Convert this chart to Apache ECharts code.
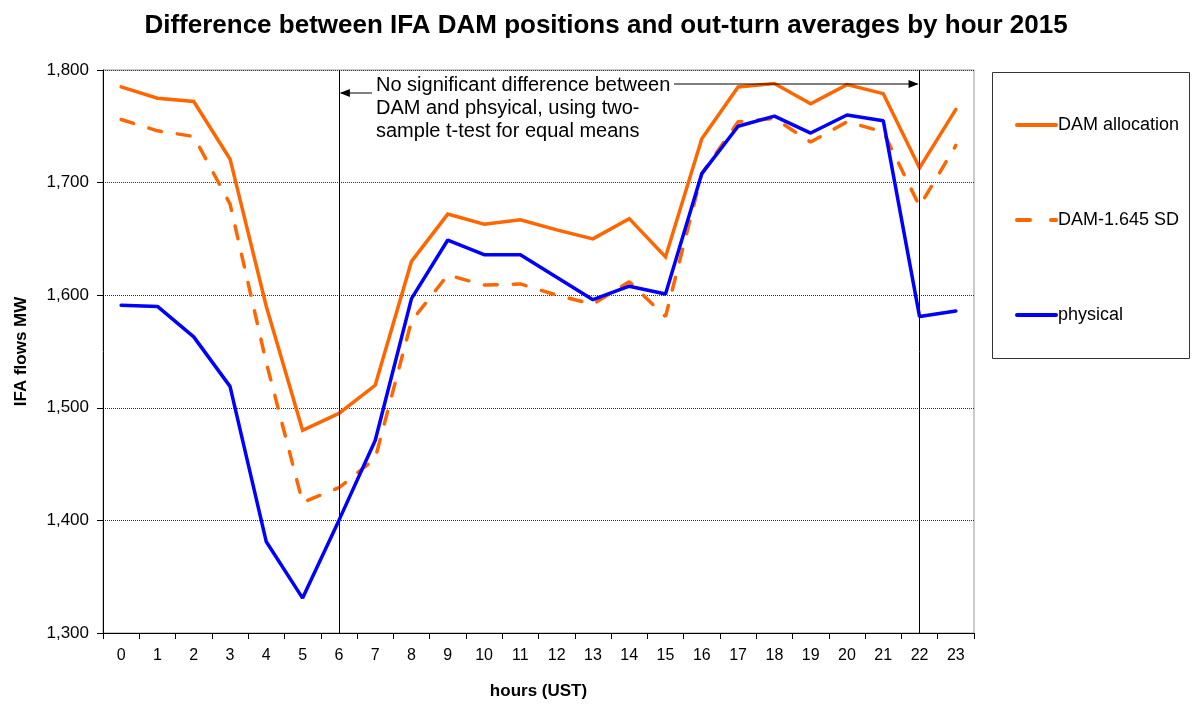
<!DOCTYPE html>
<html>
<head>
<meta charset="utf-8">
<script src="https://cdn.jsdelivr.net/npm/echarts@6/dist/echarts.min.js"></script>
<style>
html,body{margin:0;padding:0;background:#fff;}
#chart{width:1192px;height:704px;}
</style>
</head>
<body>
<div id="chart"></div>
<script>
const hours = ['0','1','2','3','4','5','6','7','8','9','10','11','12','13','14','15','16','17','18','19','20','21','22','23'];
const damAllocation = [1785,1775,1772,1721,1590,1480,1495,1520,1630,1672,1663,1667,1658,1650,1668,1634,1739,1785,1788,1770,1787,1779,1713,1765];
const damMinusSD = [1756,1746,1741,1681,1540,1416,1429,1455,1577,1618,1609,1610,1600,1592,1612,1581,1708,1754,1757,1736,1754,1745,1679,1733];
const physical = [1591,1590,1563,1519,1381,1331,1400,1471,1597,1649,1636,1636,1616,1596,1608,1601,1708,1750,1759,1744,1760,1755,1581,1586];
const markHours = ['6','22'];
const titleText = 'Difference between IFA DAM positions and out-turn averages by hour 2015';
const noteLines = ['No significant difference between','DAM and phsyical, using two-','sample t-test for equal means'];

const FONT = '"Liberation Sans", Arial, sans-serif';
const ORANGE = '#FF6600';
const BLUE = '#0000FF';

const chart = echarts.init(document.getElementById('chart'));

const option = {
  animation: false,
  backgroundColor: '#fff',
  textStyle: { fontFamily: FONT },
  title: {
    text: titleText,
    left: 601,
    textAlign: 'center',
    top: 8,
    textStyle: { fontFamily: FONT, fontSize: 26, fontWeight: 'bold', color: '#000' }
  },
  grid: {
    left: 103, right: 218, top: 70, bottom: 71,
    outerBoundsMode: 'none',
    containLabel: false,
    show: true, borderColor: '#999', borderWidth: 1, backgroundColor: 'transparent'
  },
  legend: {
    orient: 'vertical',
    left: 1010,
    top: 111,
    itemWidth: 43,
    itemHeight: 4,
    itemGap: 77,
    textStyle: { fontFamily: FONT, fontSize: 18, color: '#000', padding: [0,0,0,-5] },
    data: [
      { name: 'DAM allocation', icon: 'path://M2,0h39a2,2 0 0 1 0,4h-39a2,2 0 0 1 0,-4z' },
      { name: 'DAM-1.645 SD', icon: 'path://M2,0h13a2,2 0 0 1 0,4h-13a2,2 0 0 1 0,-4zM36,0h5a2,2 0 0 1 0,4h-5a2,2 0 0 1 0,-4z' },
      { name: 'physical', icon: 'path://M2,0h39a2,2 0 0 1 0,4h-39a2,2 0 0 1 0,-4z' }
    ]
  },
  xAxis: {
    type: 'category',
    data: hours,
    boundaryGap: true,
    name: 'hours (UST)',
    nameLocation: 'middle',
    nameGap: 50,
    nameTextStyle: { fontFamily: FONT, fontSize: 17, fontWeight: 'bold', color: '#000' },
    axisLine: { lineStyle: { color: '#000', width: 1 } },
    axisTick: { show: true, length: 6, interval: 0, lineStyle: { color: '#000' } },
    axisLabel: { interval: 0, margin: 15, fontFamily: FONT, fontSize: 16, color: '#000' },
    splitLine: { show: false }
  },
  yAxis: {
    type: 'value',
    min: 1300, max: 1800, interval: 100,
    name: 'IFA flows MW',
    nameLocation: 'middle',
    nameGap: 73,
    nameTextStyle: { fontFamily: FONT, fontSize: 17, fontWeight: 'bold', color: '#000' },
    axisLine: { show: true, lineStyle: { color: '#000', width: 1 } },
    axisTick: { show: true, length: 6, lineStyle: { color: '#000' } },
    axisLabel: {
      margin: 14, fontFamily: FONT, fontSize: 17, color: '#000',
      formatter: v => v.toLocaleString('en-US')
    },
    splitLine: { show: true, lineStyle: { color: '#333', type: [1, 1], width: 1 } }
  },
  series: [
    {
      name: 'DAM allocation', type: 'line', data: damAllocation,
      symbol: 'none', z: 3,
      lineStyle: { color: ORANGE, width: 3.5, cap: 'round', join: 'miter' },
      itemStyle: { color: ORANGE },
      markLine: {
        silent: true, symbol: 'none', animation: false,
        label: { show: false },
        lineStyle: { color: '#000', width: 1, type: 'solid' },
        data: markHours.map(h => ({ xAxis: h }))
      }
    },
    {
      name: 'DAM-1.645 SD', type: 'line', data: damMinusSD,
      symbol: 'none', z: 2,
      lineStyle: { color: ORANGE, width: 3.5, type: [13, 16], cap: 'round' },
      itemStyle: { color: ORANGE }
    },
    {
      name: 'physical', type: 'line', data: physical,
      symbol: 'none', z: 4,
      lineStyle: { color: BLUE, width: 3.5, cap: 'round' },
      itemStyle: { color: BLUE }
    }
  ]
};
chart.setOption(option);

// annotation: text and arrows pointing at the vertical lines
const x6 = chart.convertToPixel({ xAxisIndex: 0 }, markHours[0]);
const x22 = chart.convertToPixel({ xAxisIndex: 0 }, markHours[1]);
const leftArrowY = 93, rightArrowY = 84;
function arrowHead(tipX, y, dir) {
  const L = 10, W = 4;
  return {
    type: 'polygon', silent: true, z: 20,
    shape: { points: [[tipX, y], [tipX - dir * L, y - W], [tipX - dir * L, y + W]] },
    style: { fill: '#000' }
  };
}
chart.setOption({
  graphic: [
    {
      type: 'rect', silent: true, z: 0,
      shape: { x: 992.5, y: 72.5, width: 197, height: 286 },
      style: { fill: 'none', stroke: '#333', lineWidth: 1 }
    },
    {
      type: 'text', silent: true, z: 20,
      left: 376, top: 74,
      style: { text: noteLines.join('\n'), fontFamily: FONT, fontSize: 20, lineHeight: 23, fill: '#000' }
    },
    {
      type: 'line', silent: true, z: 20,
      shape: { x1: 372, y1: leftArrowY, x2: x6 + 2, y2: leftArrowY },
      style: { stroke: '#000', lineWidth: 1 }
    },
    arrowHead(x6 + 1, leftArrowY, -1),
    {
      type: 'line', silent: true, z: 20,
      shape: { x1: 674, y1: rightArrowY, x2: x22 - 2, y2: rightArrowY },
      style: { stroke: '#000', lineWidth: 1 }
    },
    arrowHead(x22 - 1, rightArrowY, 1)
  ]
});
</script>
</body>
</html>
